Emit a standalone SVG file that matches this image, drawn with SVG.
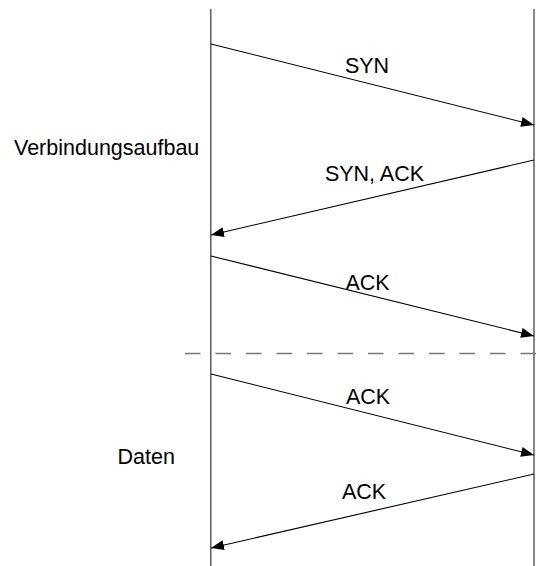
<svg xmlns="http://www.w3.org/2000/svg" width="553" height="566" viewBox="0 0 553 566">
<defs>
<marker id="arr" markerWidth="14" markerHeight="12" refX="13" refY="5" orient="auto" markerUnits="userSpaceOnUse">
<path d="M0,0 L13,5 L0,10 Z" fill="#000"/>
</marker>
<style>
.life{stroke:#444;stroke-width:1.3;fill:none}
.msg{stroke:#000;stroke-width:1.1;fill:none;marker-end:url(#arr)}
.sep{stroke:#777;stroke-width:1.3;stroke-dasharray:15.5 15;fill:none}
text{font-family:"Liberation Sans",Arial,sans-serif;font-size:21.5px;fill:#000}
.c{text-anchor:middle}
</style>
</defs>
<rect width="553" height="566" fill="#fff"/>
<g id="lifelines">
<line id="client" class="life" x1="210.8" y1="9" x2="210.8" y2="566"/>
<line id="server" class="life" x1="534" y1="9" x2="534" y2="566"/>
</g>
<g id="separator">
<line class="sep" x1="185" y1="353.5" x2="540" y2="353.5"/>
</g>
<g id="connectors">
<line class="msg" x1="211" y1="44" x2="534" y2="125"/>
<line class="msg" x1="534" y1="160" x2="211" y2="235"/>
<line class="msg" x1="211" y1="256" x2="534" y2="336"/>
<line class="msg" x1="211" y1="374" x2="534" y2="455"/>
<line class="msg" x1="534" y1="474" x2="211" y2="548"/>
</g>
<g id="labels">
<text class="c" x="367" y="72.5">SYN</text>
<text class="c" x="374.5" y="181">SYN, ACK</text>
<text class="c" x="367.5" y="289.5">ACK</text>
<text class="c" x="368" y="403.5">ACK</text>
<text class="c" x="364" y="499">ACK</text>
</g>
<g id="phase-setup"><text x="14" y="155">Verbindungsaufbau</text></g>
<g id="phase-data"><text x="117.5" y="464">Daten</text></g>
</svg>
